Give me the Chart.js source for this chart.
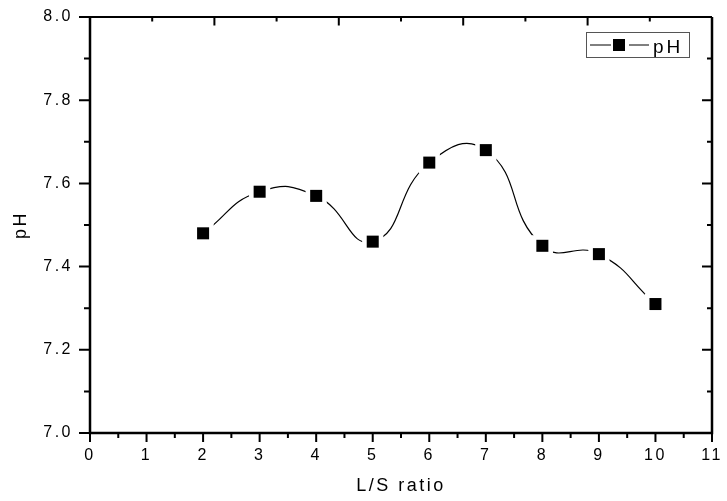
<!DOCTYPE html>
<html lang="en">

<head>
  <meta charset="UTF-8" />
  <title>pH vs L/S ratio</title>
  <script src="https://cdn.jsdelivr.net/npm/chart.js"></script>
  <style>
    body { margin: 0; background: #fff; }
    #wrap { width: 727px; height: 501px; }
  </style>
</head>

<body>
  <div id="wrap">
    <canvas id="phChart" width="727" height="501"></canvas>
  </div>

  <script>
    // measured pH for each liquid/solid ratio
    const lsRatio = [2, 3, 4, 5, 6, 7, 8, 9, 10];
    const phValues = [7.48, 7.58, 7.57, 7.46, 7.65, 7.68, 7.45, 7.43, 7.31];

    // axis ranges (top axis runs 0..10 over the same width)
    const xRange = [0, 11];
    const yRange = [7.0, 8.0];
    const topRange = [0, 10];
    const seriesName = 'pH';

    const font = 'Liberation Sans, Arial, sans-serif';
    const points = lsRatio.map((x, i) => ({ x: x, y: phValues[i] }));

    // Origin-style frame: outward ticks bottom/left, inward ticks top/right
    const frame = {
      id: 'frame',
      beforeDraw(chart) {
        chart.ctx.letterSpacing = '2.5px';
      },
      afterDraw(chart) {
        const { ctx, chartArea: a, scales: { x, y } } = chart;
        ctx.save();
        ctx.letterSpacing = '0px';
        ctx.strokeStyle = '#000';

        ctx.lineWidth = 2.5;
        ctx.beginPath();
        ctx.moveTo(a.left, a.top);
        ctx.lineTo(a.left, a.bottom);
        ctx.lineTo(a.right, a.bottom);
        ctx.lineTo(a.right, a.top);
        ctx.stroke();
        ctx.lineWidth = 2;
        ctx.beginPath();
        ctx.moveTo(a.left, a.top);
        ctx.lineTo(a.right, a.top);
        ctx.stroke();

        ctx.lineWidth = 2;
        ctx.beginPath();
        // bottom: majors every 1, minors every 0.5
        for (let i = 0; i <= (xRange[1] - xRange[0]) * 2; i++) {
          const px = x.getPixelForValue(xRange[0] + i / 2);
          ctx.moveTo(px, a.bottom);
          ctx.lineTo(px, a.bottom + (i % 2 ? 5 : 9));
        }
        // top: 0..10 scale, majors every 2
        const k = (xRange[1] - xRange[0]) / (topRange[1] - topRange[0]);
        for (let t = topRange[0]; t <= topRange[1]; t++) {
          const px = x.getPixelForValue(xRange[0] + t * k);
          ctx.moveTo(px, a.top);
          ctx.lineTo(px, a.top + (t % 2 ? 4.5 : 8.5));
        }
        // left (outward) and right (inward), majors every 0.2
        for (let i = 0; i <= 10; i++) {
          const py = y.getPixelForValue(yRange[0] + i * 0.1);
          const major = i % 2 === 0;
          ctx.moveTo(a.left, py);
          ctx.lineTo(a.left - (major ? 11 : 6), py);
          ctx.moveTo(a.right, py);
          ctx.lineTo(a.right - (major ? 10 : 5), py);
        }
        ctx.stroke();

        // legend box
        const bx = a.right - 126, by = 32;
        ctx.lineWidth = 1;
        ctx.strokeStyle = '#555';
        ctx.strokeRect(bx + 0.5, by + 0.5, 103, 25);
        ctx.strokeStyle = '#000';
        ctx.beginPath();
        ctx.moveTo(bx + 4, by + 13);
        ctx.lineTo(bx + 25, by + 13);
        ctx.moveTo(bx + 43, by + 13);
        ctx.lineTo(bx + 63, by + 13);
        ctx.stroke();
        ctx.fillStyle = '#000';
        ctx.fillRect(bx + 27, by + 7, 12, 12);
        ctx.font = '19px ' + font;
        ctx.letterSpacing = '3px';
        ctx.textBaseline = 'alphabetic';
        ctx.fillText(seriesName, bx + 67, by + 21);
        ctx.restore();
      }
    };

    new Chart(document.getElementById('phChart'), {
      type: 'line',
      data: {
        datasets: [{
          // smoothed curve with white gaps around each marker
          label: seriesName,
          data: points,
          order: 1,
          borderColor: '#000',
          borderWidth: 1.2,
          tension: 0.5,
          pointStyle: 'rect',
          pointRadius: 15,
          pointHoverRadius: 15,
          pointBackgroundColor: '#fff',
          pointBorderWidth: 0
        }, {
          label: seriesName,
          data: points,
          order: 0,
          showLine: false,
          pointStyle: 'rect',
          pointRadius: 8.5,
          pointHoverRadius: 8.5,
          pointBackgroundColor: '#000',
          pointBorderColor: '#222',
          pointBorderWidth: 0
        }]
      },
      options: {
        responsive: false,
        animation: false,
        devicePixelRatio: 1,
        events: [],
        layout: { padding: { top: 17, right: 10, left: 0, bottom: 0 } },
        plugins: {
          legend: { display: false },
          tooltip: { enabled: false }
        },
        scales: {
          x: {
            type: 'linear',
            min: xRange[0],
            max: xRange[1],
            grid: { display: false, drawTicks: false },
            border: { display: false },
            ticks: { stepSize: 1, padding: 13, color: '#000', font: { size: 16, family: font } },
            title: { display: true, text: 'L/S ratio', color: '#000', font: { size: 18, family: font }, padding: { top: 0, bottom: 4 } },
            afterFit(s) { s.height = 68; s.paddingLeft = 0; s.paddingRight = 0; }
          },
          y: {
            min: yRange[0],
            max: yRange[1],
            grid: { display: false, drawTicks: false },
            border: { display: false },
            ticks: { stepSize: 0.2, padding: 17, color: '#000', font: { size: 16, family: font }, callback: v => v.toFixed(1) },
            title: { display: true, text: 'pH', color: '#000', font: { size: 18, family: font }, padding: { top: 10, bottom: 0 } },
            afterFit(s) { s.width = 90; s.paddingTop = 0; s.paddingBottom = 0; }
          }
        }
      },
      plugins: [frame]
    });
  </script>
</body>

</html>
